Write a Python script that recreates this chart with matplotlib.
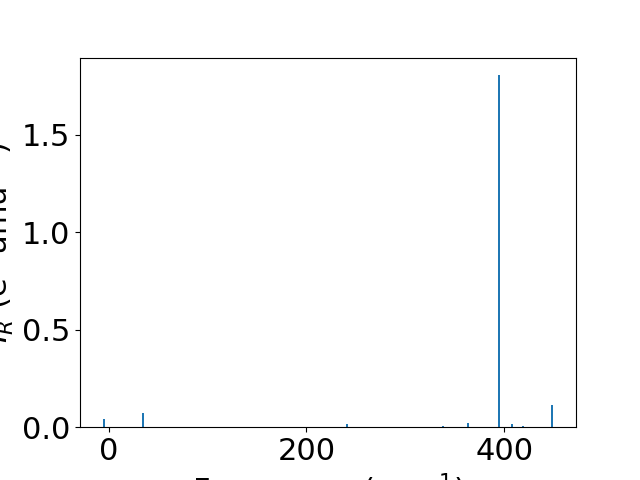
import matplotlib.pyplot as plt

frequencies = [-5.3, 34.3, 241.0, 337.6, 363.7, 394.7, 407.6, 419.0, 448.8]
intensities = [0.040, 0.072, 0.014, 0.004, 0.019, 1.805, 0.015, 0.008, 0.116]

plt.rcParams["font.size"] = 22

fig, ax = plt.subplots(figsize=(6.4, 4.8), dpi=100)

ax.bar(
    frequencies,
    intensities,
    width=2
)

ax.set_xlabel(
    "Frequency (cm$^{-1}$)"
)

ax.set_ylabel(
    "$I_R$ (e$^2$ amu$^{-1}$)"
)

fig.savefig("out.png")
plt.close(fig)
